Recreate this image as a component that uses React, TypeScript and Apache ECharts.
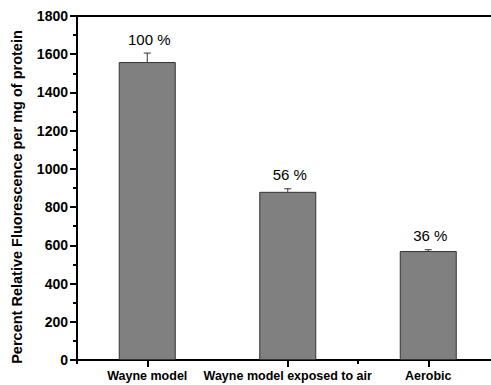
import React, { useEffect, useRef } from "react";
import * as echarts from "echarts";

// Fluorescence per mg of protein for each growth condition
const categories = ["Wayne model", "Wayne model exposed to air", "Aerobic"];
const means = [1559, 880, 570];
const errors = [47, 16, 7];
const percentLabels = ["100 %", "56 %", "36 %"];
const yTicks = { min: 0, max: 1800, interval: 200 };
const yTitle = "Percent Relative Fluorescence per mg of protein";

const FONT = "'Liberation Sans', Arial, sans-serif";

export default function App() {
  const ref = useRef<HTMLDivElement>(null);

  useEffect(() => {
    if (!ref.current) return;
    const chart = echarts.init(ref.current, undefined, { renderer: "svg" });

    const option: echarts.EChartsOption = {
      animation: false,
      backgroundColor: "#ffffff",
      grid: { left: 77, top: 16, bottom: 25, right: 1.5, containLabel: false },
      graphic: [
        {
          type: "text",
          x: 17,
          y: 197,
          rotation: Math.PI / 2,
          style: {
            text: yTitle,
            fill: "#000",
            font: `bold 14.5px ${FONT}`,
            align: "center",
            verticalAlign: "middle",
          },
        },
      ],
      xAxis: [
        {
          type: "category",
          data: categories,
          position: "bottom",
          axisLine: { show: true, lineStyle: { color: "#000", width: 2 } },
          axisTick: { show: true, alignWithLabel: true, length: 7, lineStyle: { color: "#000", width: 2 } },
          axisLabel: {
            color: "#000",
            fontFamily: FONT,
            fontWeight: "bold",
            fontSize: 12.5,
            margin: 9,
            interval: 0,
          },
          splitLine: { show: false },
        },
        {
          // boundary ticks between categories
          type: "category",
          data: categories,
          position: "bottom",
          axisLine: { show: false },
          axisTick: { show: true, alignWithLabel: false, length: 4, lineStyle: { color: "#000", width: 2 } },
          axisLabel: { show: false },
          splitLine: { show: false },
        },
        {
          // top frame line
          type: "category",
          data: categories,
          position: "top",
          axisLine: { show: true, lineStyle: { color: "#000", width: 2 } },
          axisTick: { show: false },
          axisLabel: { show: false },
          splitLine: { show: false },
        },
      ],
      yAxis: {
        type: "value",
        min: yTicks.min,
        max: yTicks.max,
        interval: yTicks.interval,
        axisLine: { show: true, lineStyle: { color: "#000", width: 2 } },
        axisTick: { show: true, length: 7, lineStyle: { color: "#000", width: 2 } },
        minorTick: { show: true, splitNumber: 2, length: 4, lineStyle: { color: "#000", width: 2 } },
        axisLabel: {
          color: "#000",
          fontFamily: FONT,
          fontWeight: "bold",
          fontSize: 14,
          margin: 9,
          formatter: (v: number) => String(v),
        },
        splitLine: { show: false },
      },
      series: [
        {
          type: "bar",
          xAxisIndex: 0,
          data: means,
          barWidth: 57,
          itemStyle: { color: "#808080", borderColor: "#333333", borderWidth: 1 },
          z: 2,
        },
        {
          type: "custom",
          xAxisIndex: 0,
          data: means.map((m, i) => [i, m, errors[i]]),
          z: 3,
          renderItem: (params: any, api: any) => {
            const i = api.value(0);
            const m = api.value(1);
            const e = api.value(2);
            const base = api.coord([i, m]);
            const top = api.coord([i, m + e]);
            const cap = 3.5;
            return {
              type: "group",
              children: [
                {
                  type: "line",
                  shape: { x1: base[0], y1: base[1], x2: top[0], y2: top[1] },
                  style: { stroke: "#333", lineWidth: 1 },
                },
                {
                  type: "line",
                  shape: { x1: top[0] - cap, y1: top[1], x2: top[0] + cap, y2: top[1] },
                  style: { stroke: "#333", lineWidth: 1 },
                },
                {
                  type: "text",
                  x: top[0] + 2,
                  y: top[1] - 14,
                  style: {
                    text: percentLabels[params.dataIndex],
                    fill: "#000",
                    font: `15px ${FONT}`,
                    align: "center",
                    verticalAlign: "middle",
                  },
                },
              ],
            };
          },
        },
      ],
    };

    chart.setOption(option);
    return () => chart.dispose();
  }, []);

  return (
    <div
      ref={ref}
      style={{ position: "fixed", left: 0, top: 0, width: 500, height: 385, background: "#fff" }}
    />
  );
}
